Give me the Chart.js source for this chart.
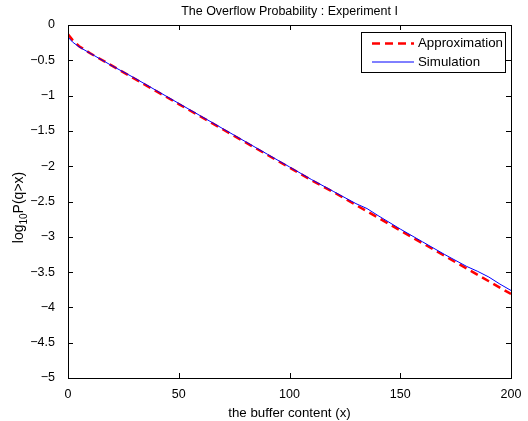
<!DOCTYPE html>
<html>
<head>
<meta charset="utf-8">
<script src="https://cdn.jsdelivr.net/npm/chart.js@4.4.0/dist/chart.umd.min.js"></script>
<style>
  html, body { margin: 0; padding: 0; background: #fff; }
  #wrap { width: 528px; height: 421px; }
</style>
</head>
<body>
<div id="wrap"><canvas id="myChart"></canvas></div>
<script>
// values
var approxX = [0, 1, 2, 3, 5, 10, 20, 30, 40, 50, 60, 70, 80, 90, 100, 110, 120, 130, 140, 150, 160, 170, 180, 190, 200];
var approxY = [-0.13, -0.17, -0.21, -0.24, -0.30, -0.40, -0.58, -0.76, -0.94, -1.12, -1.30, -1.48, -1.66, -1.84, -2.02, -2.20, -2.37, -2.55, -2.73, -2.91, -3.09, -3.27, -3.45, -3.63, -3.81];
var simX = [0, 2, 5, 10, 20, 30, 40, 50, 60, 70, 80, 90, 100, 110, 120, 130, 135, 140, 150, 160, 170, 180, 185, 190, 195, 200];
var simY = [-0.17, -0.24, -0.31, -0.40, -0.58, -0.75, -0.93, -1.11, -1.29, -1.47, -1.65, -1.83, -2.01, -2.19, -2.36, -2.53, -2.60, -2.70, -2.89, -3.07, -3.25, -3.42, -3.49, -3.57, -3.67, -3.76];
var xTicks = [0, 50, 100, 150, 200];
var yTicks = [0, -0.5, -1, -1.5, -2, -2.5, -3, -3.5, -4, -4.5, -5];

var FONT = 'Liberation Sans, Arial, Helvetica, sans-serif';
var titleText = 'The Overflow Probability : Experiment I';

function toPoints(xs, ys) {
    return xs.map(function (x, i) { return { x: x, y: ys[i] }; });
}

var matlabBox = {
    id: 'matlabBox',
    afterDraw: function (chart) {
        var ctx = chart.ctx;
        var a = chart.chartArea;
        var xs = chart.scales.x, ys = chart.scales.y;
        ctx.save();
        ctx.strokeStyle = '#000';
        ctx.lineWidth = 1;
        ctx.strokeRect(Math.round(a.left) + 0.5, Math.round(a.top) + 0.5, Math.round(a.right - a.left), Math.round(a.bottom - a.top));
        ctx.beginPath();
        xTicks.forEach(function (v) {
            var p = Math.round(xs.getPixelForValue(v)) + 0.5;
            ctx.moveTo(p, a.bottom); ctx.lineTo(p, a.bottom - 5);
            ctx.moveTo(p, a.top); ctx.lineTo(p, a.top + 5);
        });
        yTicks.forEach(function (v) {
            var p = Math.round(ys.getPixelForValue(v)) + 0.5;
            ctx.moveTo(a.left, p); ctx.lineTo(a.left + 5, p);
            ctx.moveTo(a.right, p); ctx.lineTo(a.right - 5, p);
        });
        ctx.stroke();

        // title, centred on the plot box
        ctx.fillStyle = '#000';
        ctx.font = '12.5px ' + FONT;
        ctx.textAlign = 'center';
        ctx.textBaseline = 'middle';
        ctx.fillText(titleText, (a.left + a.right) / 2, 12);
        ctx.textAlign = 'left';

        // legend box
        var lx = 361, ly = 32, lw = 144, lh = 40;
        ctx.fillStyle = '#fff';
        ctx.fillRect(lx, ly, lw, lh);
        ctx.strokeRect(lx + 0.5, ly + 0.5, lw, lh);
        ctx.font = '13.3px ' + FONT;
        ctx.fillStyle = '#000';
        var ds = chart.data.datasets;
        [0, 1].forEach(function (i) {
            var yy = ly + 11.5 + i * 18.5;
            ctx.beginPath();
            ctx.strokeStyle = ds[i].borderColor;
            ctx.lineWidth = ds[i].borderWidth;
            ctx.setLineDash(ds[i].borderDash || []);
            ctx.moveTo(lx + 11, yy); ctx.lineTo(lx + 53, yy);
            ctx.stroke();
            ctx.setLineDash([]);
            ctx.fillText(ds[i].label, lx + 57, yy);
        });

        // y axis label with subscript
        ctx.save();
        ctx.translate(23, 207.5);
        ctx.rotate(-Math.PI / 2);
        ctx.fillStyle = '#000';
        ctx.textBaseline = 'alphabetic';
        var p1 = 'log', p2 = '10', p3 = 'P(q>x)';
        ctx.font = '14px ' + FONT;
        var w1 = ctx.measureText(p1).width, w3 = ctx.measureText(p3).width;
        ctx.font = '10px ' + FONT;
        var w2 = ctx.measureText(p2).width;
        var x0 = -(w1 + w2 + w3) / 2;
        ctx.font = '14px ' + FONT;
        ctx.fillText(p1, x0, 0);
        ctx.font = '10px ' + FONT;
        ctx.fillText(p2, x0 + w1, 4);
        ctx.font = '14px ' + FONT;
        ctx.fillText(p3, x0 + w1 + w2, 0);
        ctx.restore();
        ctx.restore();
    }
};

var config = {
    type: 'line',
    data: {
        datasets: [{
            label: 'Approximation',
            data: toPoints(approxX, approxY),
            borderColor: '#ff0000',
            borderWidth: 2.5,
            borderDash: [8, 5],
            pointRadius: 0,
            tension: 0,
            order: 1
        }, {
            label: 'Simulation',
            data: toPoints(simX, simY),
            borderColor: '#0000ff',
            borderWidth: 1,
            pointRadius: 0,
            tension: 0,
            order: 0
        }]
    },
    options: {
        responsive: true,
        maintainAspectRatio: false,
        animation: false,
        layout: { padding: { left: 0, right: 17, top: 25, bottom: 0 } },
        plugins: {
            legend: { display: false },
            tooltip: { enabled: false },
            title: { display: false }
        },
        scales: {
            x: {
                type: 'linear',
                min: 0, max: 200,
                afterBuildTicks: function (s) { s.ticks = xTicks.map(function (v) { return { value: v }; }); },
                afterFit: function (s) { s.height = 43; },
                grid: { display: false },
                border: { display: false },
                ticks: { color: '#000', font: { family: FONT, size: 12.5 }, padding: 1, maxRotation: 0 },
                title: {
                    display: true,
                    text: 'the buffer content (x)',
                    color: '#000',
                    font: { family: FONT, size: 13.3 },
                    padding: { top: 0, bottom: 0 }
                }
            },
            y: {
                type: 'linear',
                min: -5, max: 0,
                afterBuildTicks: function (s) { s.ticks = yTicks.map(function (v) { return { value: v }; }); },
                afterFit: function (s) { s.width = 68; },
                grid: { display: false },
                border: { display: false },
                ticks: {
                    color: '#000',
                    font: { family: FONT, size: 12.5 },
                    padding: 5,
                    callback: function (v) { return String(v).replace('-', '\u2212'); }
                }
            }
        }
    },
    plugins: [matlabBox]
};

var myChart = new Chart(document.getElementById('myChart'), config);
</script>
</body>
</html>
